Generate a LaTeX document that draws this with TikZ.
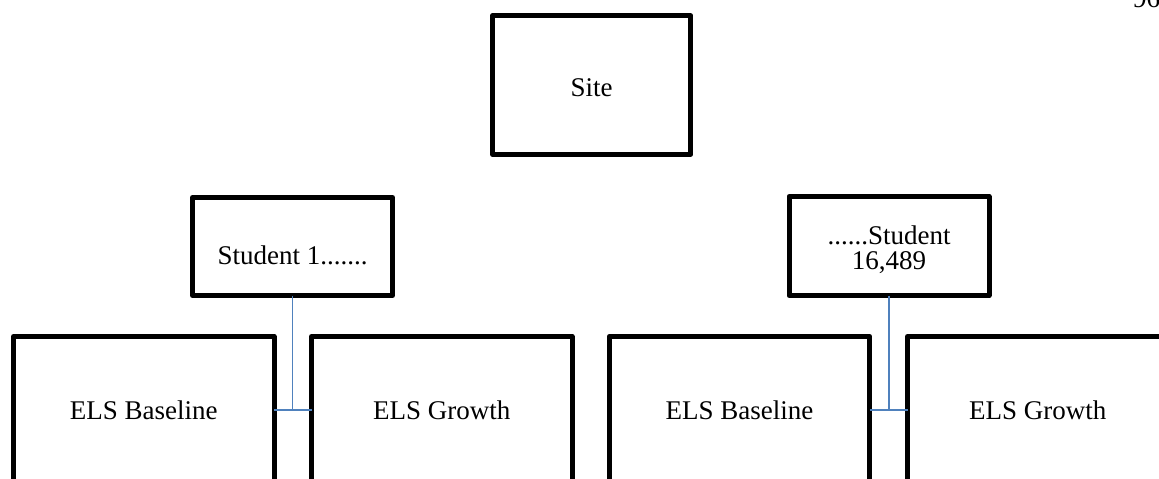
\documentclass[tikz,border=0pt]{standalone}
\usepackage{fontspec}
\setmainfont{Liberation Serif}
\definecolor{connblue}{HTML}{4F81BD}
\begin{document}
\begin{tikzpicture}[x=1pt,y=-1pt,
  box/.style={draw=black, line width=5pt, rectangle, inner sep=0pt, outer sep=0pt, line join=round, font=\fontsize{27}{25}\selectfont, align=center},
  bigbox/.style={box, minimum width=260.5pt, minimum height=147.5pt},
  conn/.style={draw=connblue, line width=1.8pt}]
\useasboundingbox (0,0) rectangle (1159,479);
\clip (0,0) rectangle (1159,479);
\node[box, minimum width=198.3pt, minimum height=138.4pt, text height=22pt, text depth=0pt] (site) at (591.7,85) {Site};
\node[box, minimum width=200pt, minimum height=98pt, text height=36pt, text depth=0pt] (s1) at (292.5,246.5) {Student 1.......};
\node[box, minimum width=200pt, minimum height=99pt, text height=51pt, text depth=4pt] (s2) at (889,246) {......Student\\16,489};
\node[bigbox] (b1) at (143.75,410.25) {ELS Baseline};
\node[bigbox] (g1) at (441.75,410.25) {ELS Growth};
\node[bigbox] (b2) at (739.5,410.25) {ELS Baseline};
\node[bigbox] (g2) at (1037.75,410.25) {ELS Growth};
\node[anchor=base west, font=\fontsize{27}{24}\selectfont, inner sep=0pt] (pg) at (1133,7) {96};
\draw[conn] (s1.south) -- (s1.south |- b1.east);
\draw[conn] (b1.east) -- (g1.west);
\draw[conn] (s2.south) -- (s2.south |- b2.east);
\draw[conn] (b2.east) -- (g2.west);
\end{tikzpicture}
\end{document}
